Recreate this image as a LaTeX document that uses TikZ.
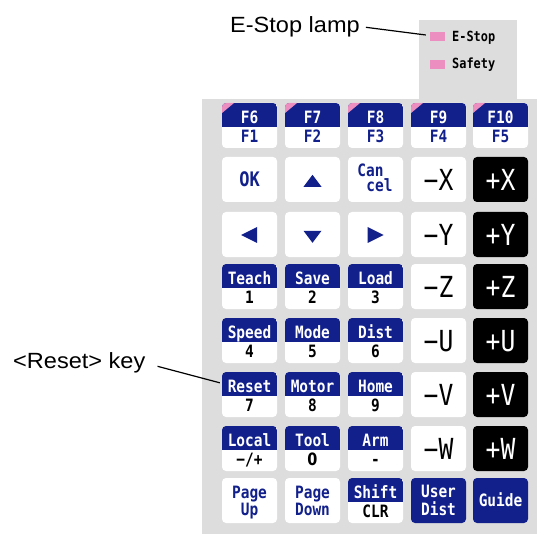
\documentclass[tikz,border=0pt]{standalone}
\usepackage{fontspec}
\setmainfont{Liberation Sans}
\newfontfamily\keyfont[FakeStretch=0.85]{DejaVu Sans Mono}
\newfontfamily\plainfont[FakeStretch=0.85]{DejaVu Sans}
\newfontfamily\lblfont[FakeStretch=1.07]{Liberation Sans}
\definecolor{navy}{RGB}{18,32,140}
\definecolor{lampink}{RGB}{236,142,192}
\definecolor{panel}{RGB}{221,221,221}
% name, cx, top, style, top text, bottom text, bottom colour
\newcommand\TwoKey[7]{%
  \node[#4] (#1) at (#2,#3+22.5) {};
  \node[ktxt, text=white] (#1a) at ([yshift=-21pt]#1.north) {#5};
  \node[ktxt, text=#7] (#1b) at ([yshift=-40pt]#1.north) {#6};}
% name, cx, top, style, text, colour
\newcommand\BigKey[6]{%
  \node[#4] (#1) at (#2,#3+22.5) {};
  \node[bigtxt, text=#6] (#1a) at ([yshift=-33.5pt]#1.north) {#5};}
\begin{document}
\begin{tikzpicture}[x=1pt,y=-1pt,
  kbase/.style={rectangle, rounded corners=4pt, minimum width=55pt, minimum height=45pt, inner sep=0pt, draw=none},
  wkey/.style={kbase, fill=white},
  bkey/.style={kbase, fill=black},
  nkey/.style={kbase, fill=navy},
  tkey/.style={kbase, fill=white, path picture={\fill[navy, sharp corners] (path picture bounding box.north west) rectangle ([yshift=-23.5pt]path picture bounding box.north east);}},
  fkey/.style={kbase, fill=white, path picture={\fill[navy, sharp corners] (path picture bounding box.north west) rectangle ([yshift=-24pt]path picture bounding box.north east);
     \fill[lampink, sharp corners] (path picture bounding box.north west) -- ([xshift=12pt]path picture bounding box.north west) -- ([yshift=-10pt]path picture bounding box.north west) -- cycle;}},
  ktxt/.style={anchor=base, inner sep=0pt, font=\keyfont\bfseries\fontsize{17}{17}\selectfont},
  oktxt/.style={anchor=base, inner sep=0pt, font=\keyfont\bfseries\fontsize{20}{20}\selectfont},
  bigtxt/.style={anchor=base, inner sep=0pt, font=\keyfont\fontsize{29}{29}\selectfont},
  lamptxt/.style={anchor=base west, inner sep=0pt, font=\keyfont\bfseries\fontsize{14}{14}\selectfont},
  lampbox/.style={rectangle, fill=lampink, minimum width=15pt, minimum height=9pt, inner sep=0pt},
  lbl/.style={anchor=base west, inner sep=0pt, font=\lblfont\fontsize{22}{22}\selectfont},
  leader/.style={draw=black, line width=1.2pt}
]
\useasboundingbox (0,0) rectangle (537,534);
% panels
\fill[panel] (202,99) rectangle (537,534);
\fill[panel] (419,20) rectangle (517,99);
% lamps
\node[lampbox] (lamp1) at (437.5,36.5) {};
\node[lampbox] (lamp2) at (437.5,64.5) {};
\node[lamptxt] (lamp1t) at (452,41.5) {E-Stop};
\node[lamptxt] (lamp2t) at (452,69) {Safety};
% row 1: function keys
\TwoKey{f1}{249.5}{103}{fkey}{F6}{F1}{navy}
\TwoKey{f2}{312.5}{103}{fkey}{F7}{F2}{navy}
\TwoKey{f3}{375.5}{103}{fkey}{F8}{F3}{navy}
\TwoKey{f4}{438.5}{103}{fkey}{F9}{F4}{navy}
\TwoKey{f5}{500.5}{103}{fkey}{F10}{F5}{navy}
% row 2
\node[wkey] (ok) at (249.5,179.5) {};
\node[oktxt, text=navy] (oka) at ([yshift=-30pt]ok.north) {OK};
\node[wkey] (up) at (312.5,179.5) {};
\fill[navy] ([xshift=-9pt,yshift=-30pt]up.north) -- ([xshift=9pt,yshift=-30pt]up.north) -- ([yshift=-18pt]up.north) -- cycle;
\node[wkey] (cancel) at (375.5,179.5) {};
\node[ktxt, text=navy] (cancela) at ([xshift=-5pt,yshift=-20pt]cancel.north) {Can};
\node[ktxt, text=navy] (cancelb) at ([xshift=4pt,yshift=-35pt]cancel.north) {cel};
\BigKey{mx}{438.5}{157}{wkey}{−X}{black}
\BigKey{px}{500.5}{157}{bkey}{+X}{white}
% row 3
\node[wkey] (lf) at (249.5,234.5) {};
\fill[navy] ([xshift=-8.5pt,yshift=-0.5pt]lf.center) -- ([xshift=7.5pt,yshift=7.5pt]lf.center) -- ([xshift=7.5pt,yshift=-8.5pt]lf.center) -- cycle;
\node[wkey] (dn) at (312.5,234.5) {};
\fill[navy] ([xshift=-9pt,yshift=-19pt]dn.north) -- ([xshift=9pt,yshift=-19pt]dn.north) -- ([yshift=-31pt]dn.north) -- cycle;
\node[wkey] (rt) at (375.5,234.5) {};
\fill[navy] ([xshift=8pt,yshift=-0.5pt]rt.center) -- ([xshift=-8pt,yshift=7.5pt]rt.center) -- ([xshift=-8pt,yshift=-8.5pt]rt.center) -- cycle;
\BigKey{my}{438.5}{212}{wkey}{−Y}{black}
\BigKey{py}{500.5}{212}{bkey}{+Y}{white}
% row 4
\TwoKey{teach}{249.5}{264}{tkey}{Teach}{1}{black}
\TwoKey{save}{312.5}{264}{tkey}{Save}{2}{black}
\TwoKey{load}{375.5}{264}{tkey}{Load}{3}{black}
\BigKey{mz}{438.5}{264}{wkey}{−Z}{black}
\BigKey{pz}{500.5}{264}{bkey}{+Z}{white}
% row 5
\TwoKey{speed}{249.5}{318}{tkey}{Speed}{4}{black}
\TwoKey{mode}{312.5}{318}{tkey}{Mode}{5}{black}
\TwoKey{dist}{375.5}{318}{tkey}{Dist}{6}{black}
\BigKey{mu}{438.5}{318}{wkey}{−U}{black}
\BigKey{pu}{500.5}{318}{bkey}{+U}{white}
% row 6
\TwoKey{reset}{249.5}{372}{tkey}{Reset}{7}{black}
\TwoKey{motor}{312.5}{372}{tkey}{Motor}{8}{black}
\TwoKey{home}{375.5}{372}{tkey}{Home}{9}{black}
\BigKey{mv}{438.5}{372}{wkey}{−V}{black}
\BigKey{pv}{500.5}{372}{bkey}{+V}{white}
% row 7
\TwoKey{local}{249.5}{426}{tkey}{Local}{−/+}{black}
\TwoKey{tool}{312.5}{426}{tkey}{Tool}{{\plainfont\bfseries 0}}{black}
\TwoKey{arm}{375.5}{426}{tkey}{Arm}{-}{black}
\BigKey{mw}{438.5}{426}{wkey}{−W}{black}
\BigKey{pw}{500.5}{426}{bkey}{+W}{white}
% row 8
\node[wkey] (pgup) at (249.5,500.5) {};
\node[ktxt, text=navy] (pgupa) at ([yshift=-21pt]pgup.north) {Page};
\node[ktxt, text=navy] (pgupb) at ([yshift=-38pt]pgup.north) {Up};
\node[wkey] (pgdn) at (312.5,500.5) {};
\node[ktxt, text=navy] (pgdna) at ([yshift=-21pt]pgdn.north) {Page};
\node[ktxt, text=navy] (pgdnb) at ([yshift=-38pt]pgdn.north) {Down};
\TwoKey{shift}{375.5}{478}{tkey}{Shift}{CLR}{black}
\node[nkey] (udist) at (438.5,500.5) {};
\node[ktxt, text=white] (udista) at ([yshift=-20pt]udist.north) {User};
\node[ktxt, text=white] (udistb) at ([yshift=-38pt]udist.north) {Dist};
\node[nkey] (guide) at (500.5,500.5) {};
\node[ktxt, text=white] (guidea) at ([yshift=-29pt]guide.north) {Guide};
% callouts
\node[lbl] (lbl1) at (230,33) {E-Stop lamp};
\node[lbl] (lbl2) at (13,368) {<Reset> key};
\coordinate (lampend) at ([xshift=-4pt,yshift=1.5pt]lamp1.west);
\coordinate (resetend) at ([xshift=-2pt,yshift=-11pt]reset.north west);
\draw[leader] ([xshift=6pt]lbl1.east) -- (lampend);
\draw[leader] ([xshift=12pt,yshift=-4pt]lbl2.east) -- (resetend);
\end{tikzpicture}
\end{document}
